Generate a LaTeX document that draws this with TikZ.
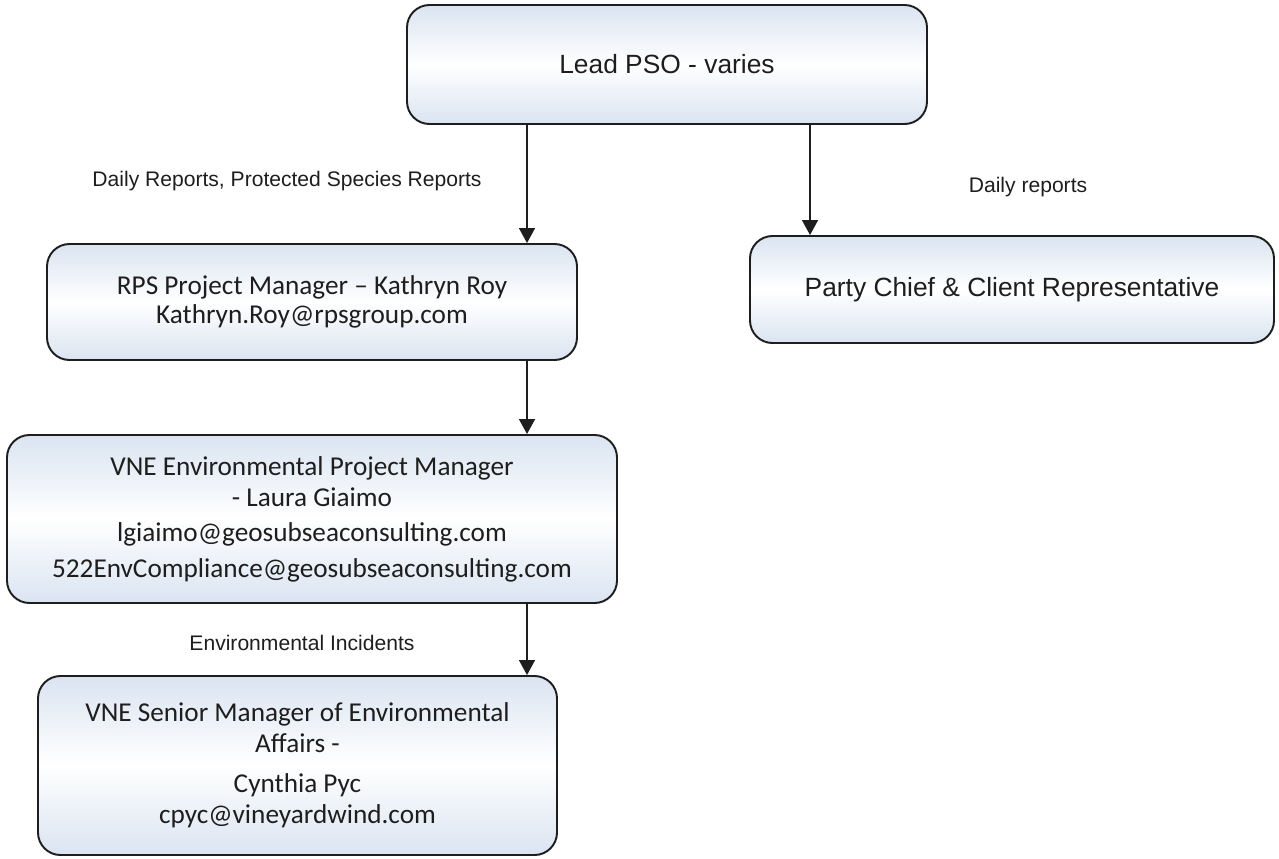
\documentclass[tikz,border=0pt]{standalone}
\usepackage{fontspec}
\setmainfont{Liberation Sans}
\newfontfamily\calibri{Carlito}
\usetikzlibrary{arrows.meta}
\definecolor{boxblue}{HTML}{DAE4F1}
\definecolor{ink}{HTML}{1E1E1E}
\tikzset{
  every picture/.style={line join=round, >={Triangle[length=0.3cm,width=0.32cm]}},
  orgbox/.style={draw=ink, line width=1.1pt, rounded corners=0.45cm,
    top color=boxblue, bottom color=boxblue, middle color=white,
    text=ink, align=center, inner sep=0pt},
  arialbox/.style={orgbox, font=\fontsize{15}{18}\selectfont},
  calbox/.style={orgbox, font=\calibri\fontsize{15.5}{17.6}\selectfont},
  flow/.style={->, line width=0.8pt, draw=ink},
  note/.style={font=\fontsize{12}{14}\selectfont, text=ink},
}

\begin{document}
\begin{tikzpicture}
\useasboundingbox (0,0) rectangle (25.58,-17.16);
% boxes
\node[arialbox, minimum width=10.4cm, minimum height=2.38cm] (lead) at (13.34,-1.29) {Lead PSO - varies};
\node[calbox, minimum width=10.6cm, minimum height=2.32cm, font=\calibri\fontsize{15.5}{16.5}\selectfont] (rps) at (6.24,-6.04)
  {RPS Project Manager – Kathryn Roy\\Kathryn.Roy@rpsgroup.com};
\node[arialbox, minimum width=10.48cm, minimum height=2.14cm] (party) at (20.24,-5.79) {Party Chief \& Client Representative};
\node[calbox, minimum width=12.2cm, minimum height=3.36cm] (vne) at (6.24,-10.38)
  {VNE Environmental Project Manager\\- Laura Giaimo\\[2.8pt]lgiaimo@geosubseaconsulting.com\\[2.4pt]522EnvCompliance@geosubseaconsulting.com};
\node[calbox, minimum width=10.38cm, minimum height=3.58cm] (senior) at (5.95,-15.31)
  {VNE Senior Manager of Environmental\\Affairs -\\[5pt]Cynthia Pyc\\cpyc@vineyardwind.com};
% reporting lines
\coordinate (leftdrop) at (10.54,0);
\coordinate (rightdrop) at (16.2,0);
\draw[flow] (lead.south -| leftdrop) -- (rps.north -| leftdrop);
\draw[flow] (lead.south -| rightdrop) -- (party.north -| rightdrop);
\draw[flow] (rps.south -| leftdrop) -- (vne.north -| leftdrop);
\draw[flow] (vne.south -| leftdrop) -- (senior.north -| leftdrop);
% labels
\node[note] (dailyall) at (5.74,-3.62) {Daily Reports, Protected Species Reports};
\node[note] (dailyparty) at (20.56,-3.74) {Daily reports};
\node[note] (incidents) at (6.04,-12.86) {Environmental Incidents};
\end{tikzpicture}
\end{document}
